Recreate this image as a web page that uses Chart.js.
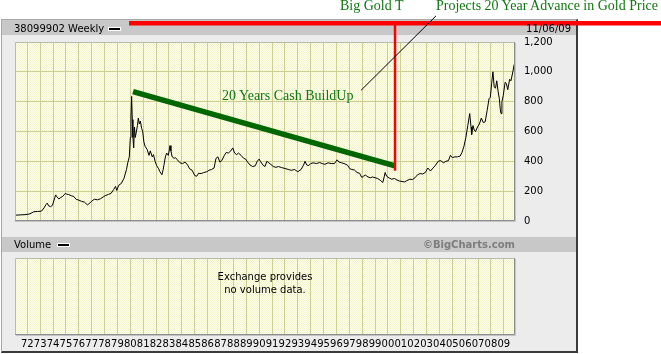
<!DOCTYPE html>
<html>
<head>
<meta charset="utf-8">
<script src="https://cdn.jsdelivr.net/npm/chart.js@4.4.1/dist/chart.umd.min.js"></script>
<style>
  html, body { margin: 0; padding: 0; background: #fff; }
  #page { position: relative; width: 661px; height: 354px; overflow: hidden;
          font-family: "DejaVu Sans", sans-serif; font-size: 10px; color: #000; }
  .abs { position: absolute; white-space: nowrap; }
  #panel { left: 1px; top: 19px; width: 574px; height: 331px; background: #ececec;
           border-left: 1px solid #a8a8a8; border-top: 1px solid #a8a8a8;
           border-right: 2px solid #3a3a3a; border-bottom: 2px solid #3a3a3a; }
  .bar { left: 2px; width: 574px; height: 15px; background: #c8c8c8; }
  .hdr { line-height: 17px; }
  .dash { width: 11px; height: 2px; background: #000; border: 1px solid #fff; }
  .note { font-family: "Liberation Serif", "Times New Roman", serif; font-size: 14px;
          line-height: 14px; color: #117711; }
  canvas { position: absolute; left: 0; }
</style>
</head>
<body>
<div id="page">
  <div id="panel" class="abs"></div>
  <div class="abs bar" style="top:20px"></div>
  <div class="abs bar" style="top:237px"></div>

  <canvas id="priceChart" width="661" height="236" style="top:0"></canvas>
  <canvas id="volChart" width="661" height="118" style="top:236px"></canvas>

  <div class="abs hdr" style="left:14px; top:20px">38099902 Weekly</div>
  <div class="abs dash" style="left:108px; top:27px"></div>
  <div class="abs hdr" style="right:90px; top:20px">11/06/09</div>

  <div class="abs hdr" style="left:14px; top:236px">Volume</div>
  <div class="abs dash" style="left:57px; top:243px"></div>
  <div class="abs hdr" style="right:146px; top:236px; font-weight:bold; color:#7d7d7d">©BigCharts.com</div>

  <div class="abs" style="left:15px; top:270px; width:500px; text-align:center; line-height:13px">Exchange provides<br>no volume data.</div>

  <div class="abs note" style="left:340px; top:-1px">Big Gold T</div>
  <div class="abs note" style="left:436px; top:-1px">Projects 20 Year Advance in Gold Price</div>
  <div class="abs note" style="left:222px; top:89px">20 Years Cash BuildUp</div>
</div>

<script>
/* ── Data (decimal year, close $) ── */
const goldWeeks = [
  1971.05, 1971.5, 1971.9, 1972.2, 1972.5, 1972.8, 1973.1, 1973.3, 1973.45, 1973.55,
  1973.65, 1973.8, 1973.95, 1974.15, 1974.2, 1974.3, 1974.45, 1974.6, 1974.75, 1974.95,
  1975.05, 1975.2, 1975.45, 1975.6, 1975.8, 1976.0, 1976.2, 1976.45, 1976.66, 1976.85,
  1977.0, 1977.2, 1977.45, 1977.7, 1977.9, 1978.1, 1978.3, 1978.5, 1978.7, 1978.85,
  1978.95, 1979.1, 1979.3, 1979.5, 1979.7, 1979.8, 1979.92, 1980.0, 1980.05, 1980.1,
  1980.15, 1980.2, 1980.26, 1980.32, 1980.38, 1980.45, 1980.55, 1980.62, 1980.7, 1980.78,
  1980.88, 1980.96, 1981.05, 1981.15, 1981.3, 1981.45, 1981.55, 1981.7, 1981.8, 1981.92,
  1982.05, 1982.2, 1982.3, 1982.45, 1982.55, 1982.62, 1982.72, 1982.82, 1982.95, 1983.08,
  1983.15, 1983.25, 1983.4, 1983.5, 1983.65, 1983.86, 1984.05, 1984.25, 1984.45, 1984.6,
  1984.8, 1985.0, 1985.15, 1985.3, 1985.5, 1985.7, 1985.93, 1986.1, 1986.3, 1986.5,
  1986.65, 1986.8, 1986.95, 1987.1, 1987.3, 1987.45, 1987.6, 1987.8, 1987.95, 1988.1,
  1988.25, 1988.4, 1988.6, 1988.8, 1988.95, 1989.15, 1989.3, 1989.5, 1989.7, 1989.85,
  1990.0, 1990.1, 1990.3, 1990.45, 1990.6, 1990.75, 1990.9, 1991.1, 1991.3, 1991.5,
  1991.75, 1992.0, 1992.3, 1992.5, 1992.75, 1993.0, 1993.25, 1993.45, 1993.56, 1993.7,
  1993.85, 1994.0, 1994.2, 1994.45, 1994.7, 1994.9, 1995.1, 1995.35, 1995.6, 1995.85,
  1996.05, 1996.2, 1996.4, 1996.6, 1996.85, 1997.05, 1997.2, 1997.4, 1997.6, 1997.8,
  1997.97, 1998.1, 1998.25, 1998.45, 1998.65, 1998.8, 1999.0, 1999.2, 1999.45, 1999.6,
  1999.72, 1999.78, 1999.9, 2000.1, 2000.3, 2000.5, 2000.7, 2000.9, 2001.1, 2001.3,
  2001.45, 2001.7, 2001.9, 2002.1, 2002.3, 2002.5, 2002.7, 2002.9, 2003.1, 2003.3,
  2003.5, 2003.7, 2003.9, 2004.1, 2004.3, 2004.5, 2004.7, 2004.85, 2005.0, 2005.2,
  2005.4, 2005.6, 2005.75, 2005.9, 2006.05, 2006.2, 2006.35, 2006.45, 2006.5, 2006.6,
  2006.7, 2006.8, 2006.95, 2007.1, 2007.25, 2007.4, 2007.55, 2007.7, 2007.85, 2007.95,
  2008.05, 2008.15, 2008.25, 2008.35, 2008.45, 2008.55, 2008.65, 2008.72, 2008.78, 2008.85,
  2008.95, 2009.1, 2009.2, 2009.3, 2009.45, 2009.55, 2009.7, 2009.8, 2009.86
];
const goldClose = [
  39, 41, 43, 48, 62, 64, 66, 88, 110, 120,
  102, 96, 105, 160, 175, 162, 148, 158, 165, 185,
  180, 178, 168, 165, 145, 140, 132, 126, 108, 120,
  133, 146, 142, 150, 162, 172, 178, 185, 210, 232,
  205, 240, 252, 285, 345, 390, 430, 560, 700, 835,
  680, 560, 490, 630, 560, 590, 640, 690, 650, 670,
  620, 600, 530, 500, 480, 440, 470, 430, 445, 400,
  370, 350, 330, 310, 345, 380, 430, 455, 440, 505,
  470, 430, 420, 425, 410, 390, 385, 395, 375, 350,
  340, 305, 300, 320, 318, 325, 330, 340, 345, 355,
  420, 430, 395, 405, 440, 460, 455, 470, 490, 455,
  445, 455, 440, 420, 415, 390, 375, 365, 370, 400,
  415, 400, 375, 365, 400, 390, 380, 365, 360, 365,
  358, 352, 345, 340, 345, 330, 345, 375, 400, 375,
  372, 385, 390, 385, 392, 385, 380, 390, 385, 385,
  410, 395, 390, 385, 375, 350, 345, 342, 325, 320,
  292, 300, 308, 295, 290, 295, 290, 285, 270, 258,
  300, 325, 300, 288, 280, 285, 275, 268, 265, 262,
  270, 280, 278, 290, 310, 318, 315, 325, 355, 335,
  355, 375, 400, 405, 390, 400, 405, 440, 425, 430,
  430, 435, 460, 500, 560, 640, 720, 630, 580, 640,
  610, 600, 630, 650, 690, 660, 665, 740, 820, 830,
  920, 1000, 900, 890, 940, 870, 820, 750, 720, 800,
  840, 930, 920, 880, 950, 940, 1000, 1050, 1095
];
const yearTicks = [
  1972, 1973, 1974, 1975, 1976, 1977, 1978, 1979, 1980, 1981,
  1982, 1983, 1984, 1985, 1986, 1987, 1988, 1989, 1990, 1991,
  1992, 1993, 1994, 1995, 1996, 1997, 1998, 1999, 2000, 2001,
  2002, 2003, 2004, 2005, 2006, 2007, 2008, 2009
];
const priceTicks = [0, 200, 400, 600, 800, 1000, 1200];

const X_MIN = 1971.045, X_MAX = 2009.865;
const GRID  = "#cdcd9a";
const FONT  = "DejaVu Sans";

Chart.defaults.font.family = FONT;
Chart.defaults.font.size   = 10;
Chart.defaults.color       = "#000";

/* ── Plot background: pale yellow dotted texture + frame ── */
function dotPattern(ctx) {
  const c = document.createElement("canvas");
  c.width = 2; c.height = 2;
  const g = c.getContext("2d");
  g.fillStyle = "#fffff0"; g.fillRect(0, 0, 2, 2);
  g.fillStyle = "#f3f3c8"; g.fillRect(0, 0, 1, 1); g.fillRect(1, 1, 1, 1);
  return ctx.createPattern(c, "repeat");
}

const plotBox = {
  id: "plotBox",
  beforeDraw(chart) {
    const { ctx, chartArea: a } = chart;
    ctx.save();
    ctx.fillStyle = dotPattern(ctx);
    ctx.fillRect(a.left, a.top, a.right - a.left, a.bottom - a.top);
    ctx.restore();
  },
  afterDraw(chart) {
    const { ctx, chartArea: a } = chart;
    ctx.save();
    ctx.lineWidth = 1;
    ctx.strokeStyle = "#bcbca6";
    ctx.beginPath();
    ctx.moveTo(a.left + 0.5, a.bottom); ctx.lineTo(a.left + 0.5, a.top + 0.5); ctx.lineTo(a.right, a.top + 0.5);
    ctx.stroke();
    ctx.strokeStyle = "#8e8e8e";
    ctx.beginPath();
    ctx.moveTo(a.left, a.bottom - 0.5); ctx.lineTo(a.right - 0.5, a.bottom - 0.5); ctx.lineTo(a.right - 0.5, a.top);
    ctx.stroke();
    ctx.strokeStyle = "#c4c4c4";
    ctx.beginPath();
    ctx.moveTo(a.left + 1, a.bottom + 0.5); ctx.lineTo(a.right + 0.5, a.bottom + 0.5); ctx.lineTo(a.right + 0.5, a.top + 1);
    ctx.stroke();
    ctx.restore();
  },
};

/* ── Hand-drawn annotations, given in chart units ── */
const notes = {
  id: "notes",
  afterDraw(chart) {
    const { ctx, scales: { x, y } } = chart;
    const seg = (x1, y1, x2, y2, color, w) => {
      ctx.beginPath();
      ctx.moveTo(x.getPixelForValue(x1), y.getPixelForValue(y1));
      ctx.lineTo(x.getPixelForValue(x2), y.getPixelForValue(y2));
      ctx.strokeStyle = color; ctx.lineWidth = w; ctx.lineCap = "butt";
      ctx.stroke();
    };
    ctx.save();
    seg(1980.21, 867, 2000.55, 370, "#006600", 5.5);     // 20 years cash buildup
    seg(2000.55, 337, 2000.55, 1340, "#ff0000", 2.5);    // stem of the T
    seg(1979.9, 1326, 2022, 1326, "#ff0000", 4.5);       // bar of the T
    seg(1997.91, 876, 2003.73, 1375, "#000000", 1);      // leader to caption
    ctx.restore();
  },
};

function yearScale(showLabels) {
  return {
    type: "linear", min: X_MIN, max: X_MAX,
    afterBuildTicks: s => { s.ticks = yearTicks.map(v => ({ value: v })); },
    ticks: { display: showLabels, autoSkip: false, maxRotation: 0, padding: 3,
             callback: v => String(v).slice(2) },
    grid: { color: GRID, drawTicks: false },
    border: { display: false },
  };
}

/* ── Price chart ── */
const priceX = yearScale(false);
priceX.afterFit = s => { s.height = 9; };

new Chart(document.getElementById("priceChart"), {
  type: "line",
  data: {
    datasets: [{
      data: goldWeeks.map((w, i) => ({ x: w, y: goldClose[i] })),
      borderColor: "#000", borderWidth: 1, pointRadius: 0, tension: 0, fill: false,
    }],
  },
  options: {
    responsive: false, animation: false, events: [],
    layout: { padding: { left: 15, top: 42, right: 0, bottom: 0 } },
    plugins: { legend: { display: false }, tooltip: { enabled: false } },
    scales: {
      x: priceX,
      y: {
        position: "right", min: 0, max: 1200,
        afterBuildTicks: s => { s.ticks = priceTicks.map(v => ({ value: v })); },
        afterFit: s => { s.width = 146; },
        ticks: { padding: 9, callback: v => v.toLocaleString("en-US") },
        grid: { color: GRID, drawTicks: false },
        border: { display: false },
      },
    },
  },
  plugins: [plotBox, notes],
});

/* ── Volume chart (no data from the exchange) ── */
const volX = yearScale(true);
volX.afterFit = s => { s.height = 19; };

new Chart(document.getElementById("volChart"), {
  type: "line",
  data: { datasets: [] },
  options: {
    responsive: false, animation: false, events: [],
    layout: { padding: { left: 15, top: 22, right: 146, bottom: 0 } },
    plugins: { legend: { display: false }, tooltip: { enabled: false } },
    scales: {
      x: volX,
      y: { display: false, min: 0, max: 1 },
    },
  },
  plugins: [plotBox],
});
</script>
</body>
</html>
